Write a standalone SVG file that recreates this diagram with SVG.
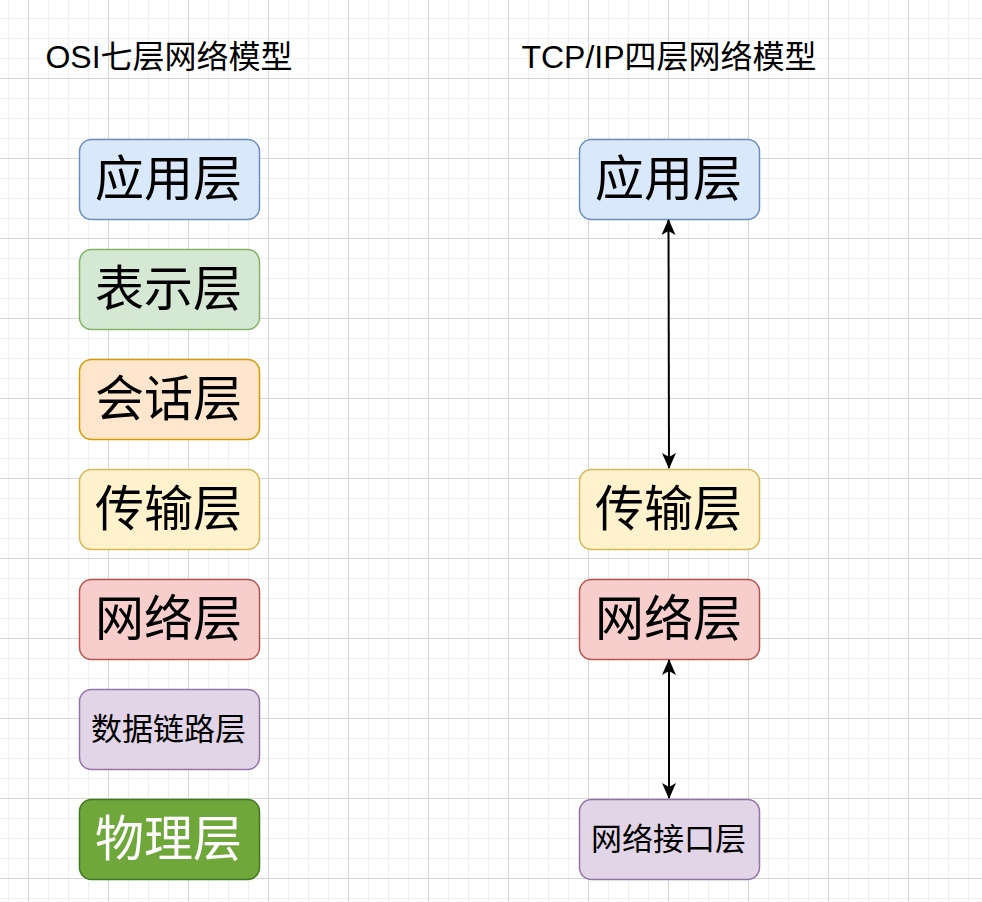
<svg xmlns="http://www.w3.org/2000/svg" width="982" height="902" viewBox="0 0 982 902">
  <defs>
    <pattern id="minor" x="8" y="18" width="20" height="20" patternUnits="userSpaceOnUse">
      <path d="M0.5 0 V20 M0 0.5 H20" fill="none" stroke="#efefef" stroke-width="1"/>
    </pattern>
    <pattern id="major" x="28" y="78" width="80" height="80" patternUnits="userSpaceOnUse">
      <path d="M0.5 0 V80 M0 0.5 H80" fill="none" stroke="#d4d4d4" stroke-width="1"/>
    </pattern>
    <marker id="arr" viewBox="0 0 16 14" refX="15" refY="7" markerWidth="16" markerHeight="14" markerUnits="userSpaceOnUse" orient="auto-start-reverse">
      <path d="M0 0 L16 7 L0 14 L4 7 Z" fill="#000"/>
    </marker>
  </defs>
  <style>
    .t { font-family: "Liberation Sans", "Noto Sans CJK SC", sans-serif; fill: #000; text-anchor: middle; }
    .big { font-size: 49px; }
    .mid { font-size: 31px; }
    .title { font-size: 32px; }
    .box { stroke-width: 1.5; }
    .blue { fill: #dae8fc; stroke: #6c8ebf; }
    .green { fill: #d5e8d4; stroke: #82b366; }
    .orange { fill: #ffe6cc; stroke: #d79b00; }
    .yellow { fill: #fff2cc; stroke: #d6b656; }
    .red { fill: #f8cecc; stroke: #b85450; }
    .purple { fill: #e1d5e7; stroke: #9673a6; }
    .dgreen { fill: #70a73b; stroke: #3f7a1e; }
    .conn { stroke: #000; stroke-width: 2; fill: none; }
  </style>
  <rect width="982" height="902" fill="#fff"/>
  <rect width="982" height="902" fill="url(#minor)"/>
  <rect width="982" height="902" fill="url(#major)"/>

  <g id="title-osi"><text class="t title" x="169" y="68">OSI七层网络模型</text></g>
  <g id="title-tcpip"><text class="t title" x="669" y="68">TCP/IP四层网络模型</text></g>

  <g id="osi-app"><rect class="box blue" x="79.5" y="139.5" width="180" height="80" rx="12"/><text class="t big" x="168.5" y="196">应用层</text></g>
  <g id="osi-pres"><rect class="box green" x="79.5" y="249.5" width="180" height="80" rx="12"/><text class="t big" x="168.5" y="306">表示层</text></g>
  <g id="osi-sess"><rect class="box orange" x="79.5" y="359.5" width="180" height="80" rx="12"/><text class="t big" x="168.5" y="416">会话层</text></g>
  <g id="osi-trans"><rect class="box yellow" x="79.5" y="469.5" width="180" height="80" rx="12"/><text class="t big" x="168.5" y="526">传输层</text></g>
  <g id="osi-net"><rect class="box red" x="79.5" y="579.5" width="180" height="80" rx="12"/><text class="t big" x="168.5" y="636">网络层</text></g>
  <g id="osi-link"><rect class="box purple" x="79.5" y="689.5" width="180" height="80" rx="12"/><text class="t mid" x="168.5" y="740">数据链路层</text></g>
  <g id="osi-phy"><rect class="box dgreen" x="79.5" y="799.5" width="180" height="80" rx="12"/><text class="t big" x="168.5" y="856" style="fill:#fff">物理层</text></g>

  <g id="tcp-app"><rect class="box blue" x="579.5" y="139.5" width="180" height="80" rx="12"/><text class="t big" x="668.5" y="196">应用层</text></g>
  <g id="tcp-trans"><rect class="box yellow" x="579.5" y="469.5" width="180" height="80" rx="12"/><text class="t big" x="668.5" y="526">传输层</text></g>
  <g id="tcp-net"><rect class="box red" x="579.5" y="579.5" width="180" height="80" rx="12"/><text class="t big" x="668.5" y="636">网络层</text></g>
  <g id="tcp-if"><rect class="box purple" x="579.5" y="799.5" width="180" height="80" rx="12"/><text class="t mid" x="668.5" y="850">网络接口层</text></g>

  <g id="connectors">
    <line class="conn" x1="668.5" y1="220" x2="669" y2="468" marker-start="url(#arr)" marker-end="url(#arr)"/>
    <line class="conn" x1="669" y1="660" x2="669" y2="798" marker-start="url(#arr)" marker-end="url(#arr)"/>
  </g>
</svg>
